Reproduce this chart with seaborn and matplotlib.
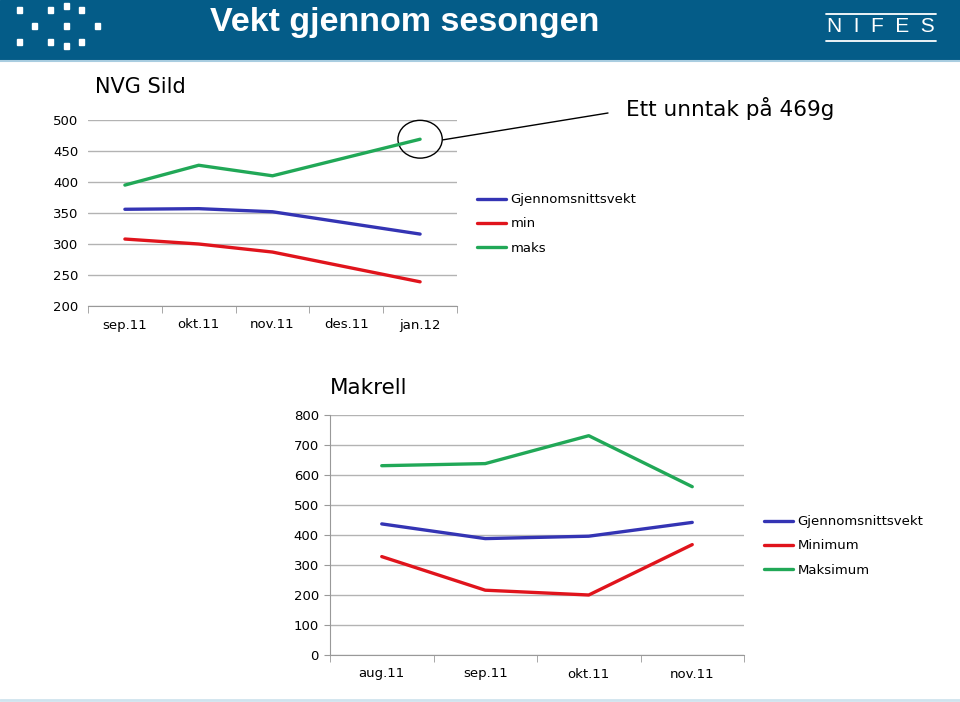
import numpy as np
import pandas as pd
import seaborn as sns
import matplotlib.pyplot as plt
from matplotlib.patches import Rectangle, Ellipse
from matplotlib.lines import Line2D

# NVG Sild
sild_maneder = ['sep.11', 'okt.11', 'nov.11', 'des.11', 'jan.12']
sild_snitt = [356, 357, 352, np.nan, 316]
sild_min = [308, 300, 287, np.nan, 239]
sild_maks = [395, 427, 410, np.nan, 469]
sild_serier = ['Gjennomsnittsvekt', 'min', 'maks']

# Makrell
makrell_maneder = ['aug.11', 'sep.11', 'okt.11', 'nov.11']
makrell_snitt = [437, 388, 396, 442]
makrell_min = [328, 216, 200, 368]
makrell_maks = [631, 638, 731, 561]
makrell_serier = ['Gjennomsnittsvekt', 'Minimum', 'Maksimum']

farger = ['#3434b4', '#e0141c', '#21a857']

sns.set_style('white')
plt.rcParams['font.family'] = ['DejaVu Sans']
plt.rcParams['text.color'] = 'black'
plt.rcParams['xtick.color'] = 'black'
plt.rcParams['ytick.color'] = 'black'


def lag_df(maneder, serier, verdier):
    rader = []
    for navn, vals in zip(serier, verdier):
        for i, v in enumerate(vals):
            rader.append({'x': i, 'maned': maneder[i], 'serie': navn, 'vekt': v})
    return pd.DataFrame(rader).dropna()


fig = plt.figure(figsize=(9.6, 7.02), dpi=100)
W, H = 960, 702

# header
fig.patches.append(Rectangle((0, 1 - 60 / H), 1, 60 / H, transform=fig.transFigure,
                             color='#045c88', zorder=0))
fig.add_artist(Line2D([0, 1], [1 - 61 / H, 1 - 61 / H], transform=fig.transFigure,
                      color='#a9cde0', lw=1.5))
fig.add_artist(Line2D([0, 1], [1 - 700 / H, 1 - 700 / H], transform=fig.transFigure,
                      color='#cfe3ee', lw=2))
fig.text(210 / W, 1 - 22 / H, 'Vekt gjennom sesongen', color='white', fontsize=24.5,
         fontweight='bold', family='Liberation Sans', va='center', ha='left')
# logo dots
prikker = [(19, 10), (50, 10), (66, 6), (81, 10), (34, 26), (66, 26), (97, 26),
           (19, 42), (50, 42), (66, 46), (81, 42)]
for px, py in prikker:
    fig.patches.append(Rectangle(((px - 2.5) / W, 1 - (py + 2.5) / H), 5 / W, 5 / H,
                                 transform=fig.transFigure, color='white', zorder=2))
# NIFES
fig.text(881 / W, 1 - 27 / H, 'N  I  F  E  S', color='white', fontsize=15,
         family='Liberation Sans', ha='center', va='center')
for ly in (14, 41):
    fig.add_artist(Line2D([826 / W, 936 / W], [1 - ly / H, 1 - ly / H],
                          transform=fig.transFigure, color='white', lw=1.3))


def tegn(ax, df, maneder, serier, ymin, ymax, step, venstre_akse):
    sns.lineplot(data=df, x='x', y='vekt', hue='serie', hue_order=serier,
                 palette=farger, linewidth=2.4, ax=ax, legend=False, sort=True)
    n = len(maneder)
    ax.set_xlim(-0.5, n - 0.5)
    ax.set_ylim(ymin, ymax)
    ax.set_yticks(np.arange(ymin, ymax + 1, step))
    ax.set_xticks(range(n))
    ax.set_xticklabels(maneder)
    ax.set_xticks(np.arange(-0.5, n, 1), minor=True)
    ax.tick_params(axis='x', which='major', length=0, pad=9, labelsize=9.5)
    ax.tick_params(axis='x', which='minor', length=5, color='#999999', direction='out',
                   bottom=True)
    ax.yaxis.grid(True, color='#b3b3b3', lw=1)
    ax.set_axisbelow(True)
    ax.set_xlabel('')
    ax.set_ylabel('')
    for s in ['top', 'right']:
        ax.spines[s].set_visible(False)
    ax.spines['bottom'].set_color('#999999')
    if venstre_akse:
        ax.spines['left'].set_color('#999999')
        ax.tick_params(axis='y', length=4, color='#999999', labelcolor='black', left=True,
                       pad=4, labelsize=9.5)
    else:
        ax.spines['left'].set_visible(False)
        ax.tick_params(axis='y', length=0, pad=7, labelsize=9.5)


# top chart
ax1 = fig.add_axes([88 / W, 1 - 306 / H, 369 / W, 186 / H])
df1 = lag_df(sild_maneder, sild_serier, [sild_snitt, sild_min, sild_maks])
tegn(ax1, df1, sild_maneder, sild_serier, 200, 500, 50, False)
fig.text(95 / W, 1 - 87 / H, 'NVG Sild', fontsize=15, va='center', ha='left')
ax1.add_patch(Ellipse((4, 469), 0.6, 61, fill=False, lw=1, color='black', clip_on=False))
ax1.annotate('', xy=(4.31, 468), xytext=(608 / W, 1 - 113 / H), textcoords='figure fraction',
             arrowprops=dict(arrowstyle='-', lw=1, color='black', shrinkA=0, shrinkB=0))
fig.text(626 / W, 1 - 108 / H, 'Ett unntak på 469g', fontsize=15.5, va='center', ha='left')
h1 = [Line2D([], [], color=c, lw=2.4) for c in farger]
fig.legend(h1, sild_serier, loc='upper left', bbox_to_anchor=(472 / W, 1 - 188 / H),
           frameon=False, fontsize=9.5, handlelength=2.2, handletextpad=0.3,
           labelspacing=0.85, borderaxespad=0)

# bottom chart
ax2 = fig.add_axes([330 / W, 1 - 655 / H, 414 / W, 240 / H])
df2 = lag_df(makrell_maneder, makrell_serier, [makrell_snitt, makrell_min, makrell_maks])
tegn(ax2, df2, makrell_maneder, makrell_serier, 0, 800, 100, True)
fig.text(330 / W, 1 - 388 / H, 'Makrell', fontsize=15.5, va='center', ha='left')
fig.legend(h1, makrell_serier, loc='upper left', bbox_to_anchor=(759 / W, 1 - 510 / H),
           frameon=False, fontsize=9.5, handlelength=2.2, handletextpad=0.3,
           labelspacing=0.85, borderaxespad=0)

fig.savefig('out.png', dpi=100)
